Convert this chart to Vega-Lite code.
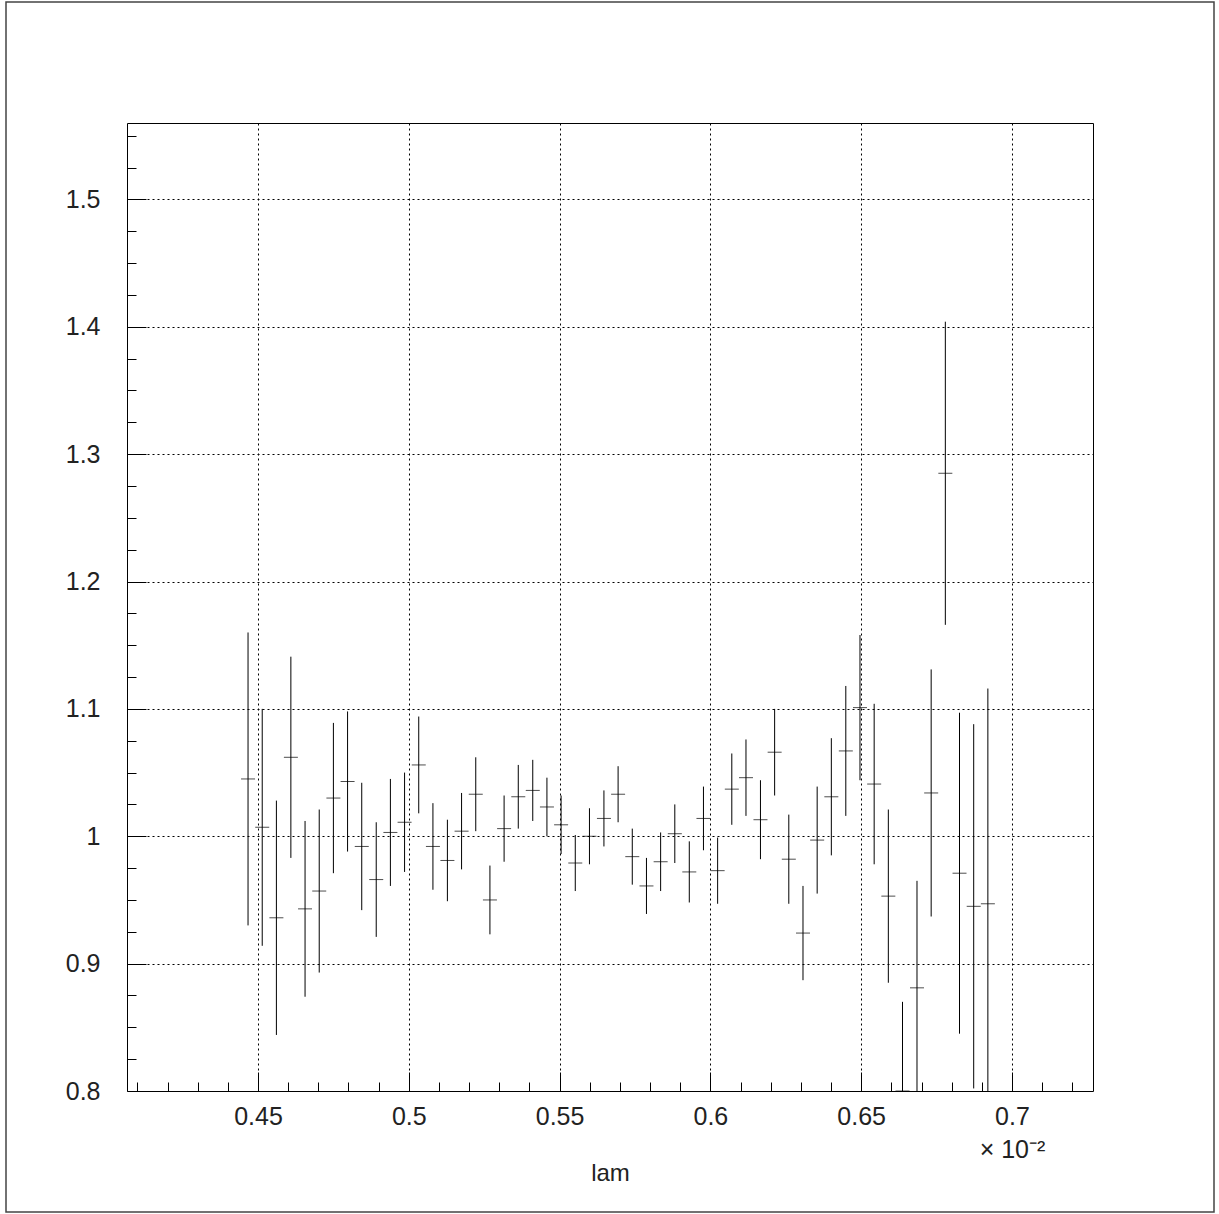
{
  "$schema": "https://vega.github.io/schema/vega-lite/v6.json",
  "description": "Ratio versus lam with statistical error bars and bin-width markers.",
  "width": 1208,
  "height": 1210,
  "autosize": {"type": "none"},
  "padding": {"left": 6, "top": 2, "right": 5, "bottom": 2},
  "background": "white",
  "config": {
    "view": {"stroke": "#444444", "strokeWidth": 1.5},
    "axis": {
      "domainColor": "black",
      "domainWidth": 1,
      "tickColor": "black",
      "tickWidth": 1,
      "gridColor": "black",
      "gridWidth": 1,
      "gridDash": [2, 3],
      "labelFont": "Liberation Sans",
      "labelFontSize": 25,
      "labelColor": "#222222",
      "titleFont": "Liberation Sans",
      "titleFontSize": 24,
      "titleFontWeight": "normal",
      "titleColor": "#222222",
      "labelOverlap": false,
      "labelFlush": false
    }
  },
  "data": {
    "values": [
      {"lam": 0.004467, "ratio": 1.045, "lo": 0.930, "hi": 1.160},
      {"lam": 0.004514, "ratio": 1.007, "lo": 0.914, "hi": 1.100},
      {"lam": 0.004561, "ratio": 0.936, "lo": 0.844, "hi": 1.028},
      {"lam": 0.004609, "ratio": 1.062, "lo": 0.983, "hi": 1.141},
      {"lam": 0.004656, "ratio": 0.943, "lo": 0.874, "hi": 1.012},
      {"lam": 0.004703, "ratio": 0.957, "lo": 0.893, "hi": 1.021},
      {"lam": 0.004750, "ratio": 1.030, "lo": 0.971, "hi": 1.089},
      {"lam": 0.004797, "ratio": 1.043, "lo": 0.988, "hi": 1.098},
      {"lam": 0.004844, "ratio": 0.992, "lo": 0.942, "hi": 1.042},
      {"lam": 0.004892, "ratio": 0.966, "lo": 0.921, "hi": 1.011},
      {"lam": 0.004939, "ratio": 1.003, "lo": 0.961, "hi": 1.045},
      {"lam": 0.004986, "ratio": 1.011, "lo": 0.972, "hi": 1.050},
      {"lam": 0.005033, "ratio": 1.056, "lo": 1.018, "hi": 1.094},
      {"lam": 0.005080, "ratio": 0.992, "lo": 0.958, "hi": 1.026},
      {"lam": 0.005128, "ratio": 0.981, "lo": 0.949, "hi": 1.013},
      {"lam": 0.005175, "ratio": 1.004, "lo": 0.974, "hi": 1.034},
      {"lam": 0.005222, "ratio": 1.033, "lo": 1.004, "hi": 1.062},
      {"lam": 0.005269, "ratio": 0.950, "lo": 0.923, "hi": 0.977},
      {"lam": 0.005316, "ratio": 1.006, "lo": 0.980, "hi": 1.032},
      {"lam": 0.005363, "ratio": 1.031, "lo": 1.006, "hi": 1.056},
      {"lam": 0.005411, "ratio": 1.036, "lo": 1.012, "hi": 1.060},
      {"lam": 0.005458, "ratio": 1.023, "lo": 1.000, "hi": 1.046},
      {"lam": 0.005505, "ratio": 1.009, "lo": 0.986, "hi": 1.032},
      {"lam": 0.005552, "ratio": 0.979, "lo": 0.957, "hi": 1.001},
      {"lam": 0.005599, "ratio": 1.000, "lo": 0.978, "hi": 1.022},
      {"lam": 0.005647, "ratio": 1.014, "lo": 0.992, "hi": 1.036},
      {"lam": 0.005694, "ratio": 1.033, "lo": 1.011, "hi": 1.055},
      {"lam": 0.005741, "ratio": 0.984, "lo": 0.962, "hi": 1.006},
      {"lam": 0.005788, "ratio": 0.961, "lo": 0.939, "hi": 0.983},
      {"lam": 0.005835, "ratio": 0.980, "lo": 0.957, "hi": 1.003},
      {"lam": 0.005882, "ratio": 1.002, "lo": 0.979, "hi": 1.025},
      {"lam": 0.005930, "ratio": 0.972, "lo": 0.948, "hi": 0.996},
      {"lam": 0.005977, "ratio": 1.014, "lo": 0.989, "hi": 1.039},
      {"lam": 0.006024, "ratio": 0.973, "lo": 0.947, "hi": 0.999},
      {"lam": 0.006071, "ratio": 1.037, "lo": 1.009, "hi": 1.065},
      {"lam": 0.006118, "ratio": 1.046, "lo": 1.016, "hi": 1.076},
      {"lam": 0.006166, "ratio": 1.013, "lo": 0.982, "hi": 1.044},
      {"lam": 0.006213, "ratio": 1.066, "lo": 1.032, "hi": 1.100},
      {"lam": 0.006260, "ratio": 0.982, "lo": 0.947, "hi": 1.017},
      {"lam": 0.006307, "ratio": 0.924, "lo": 0.887, "hi": 0.961},
      {"lam": 0.006354, "ratio": 0.997, "lo": 0.955, "hi": 1.039},
      {"lam": 0.006401, "ratio": 1.031, "lo": 0.985, "hi": 1.077},
      {"lam": 0.006449, "ratio": 1.067, "lo": 1.016, "hi": 1.118},
      {"lam": 0.006496, "ratio": 1.101, "lo": 1.044, "hi": 1.158},
      {"lam": 0.006543, "ratio": 1.041, "lo": 0.978, "hi": 1.104},
      {"lam": 0.006590, "ratio": 0.953, "lo": 0.885, "hi": 1.021},
      {"lam": 0.006637, "ratio": 0.795, "lo": 0.720, "hi": 0.870},
      {"lam": 0.006685, "ratio": 0.881, "lo": 0.797, "hi": 0.965},
      {"lam": 0.006732, "ratio": 1.034, "lo": 0.937, "hi": 1.131},
      {"lam": 0.006779, "ratio": 1.285, "lo": 1.166, "hi": 1.404},
      {"lam": 0.006826, "ratio": 0.971, "lo": 0.845, "hi": 1.097},
      {"lam": 0.006873, "ratio": 0.945, "lo": 0.802, "hi": 1.088},
      {"lam": 0.006920, "ratio": 0.947, "lo": 0.778, "hi": 1.116}
    ]
  },
  "layer": [
    {
      "mark": {"type": "rule", "color": "black", "strokeWidth": 1},
      "encoding": {
        "x": {
          "field": "lam",
          "type": "quantitative",
          "scale": {"domain": [0.00406565, 0.0072686], "range": [121, 1087], "nice": false, "zero": false},
          "axis": {
            "orient": "bottom",
            "offset": -121,
            "title": "lam",
            "titleY": 89,
            "titleBaseline": "alphabetic",
            "values": [0.0041, 0.0042, 0.0043, 0.0044, 0.0045, 0.0046, 0.0047, 0.0048, 0.0049, 0.005, 0.0051, 0.0052, 0.0053, 0.0054, 0.0055, 0.0056, 0.0057, 0.0058, 0.0059, 0.006, 0.0061, 0.0062, 0.0063, 0.0064, 0.0065, 0.0066, 0.0067, 0.0068, 0.0069, 0.007, 0.0071, 0.0072],
            "tickSize": {"condition": {"test": "abs(datum.value * 2000 - round(datum.value * 2000)) < 1e-6", "value": -19}, "value": -9},
            "gridOpacity": {"condition": {"test": "abs(datum.value * 2000 - round(datum.value * 2000)) < 1e-6", "value": 1}, "value": 0},
            "labelPadding": 32,
            "labelBaseline": "top",
            "labelLineHeight": 33,
            "labelExpr": "abs(datum.value * 2000 - round(datum.value * 2000)) < 1e-6 ? (abs(datum.value - 0.007) < 1e-9 ? ['0.7', '× 10⁻²'] : format(datum.value * 100, '.2~f')) : ''"
          }
        },
        "y": {
          "field": "lo",
          "type": "quantitative",
          "scale": {"domain": [0.8, 1.56], "range": [1089, 121], "nice": false, "zero": false, "clamp": true},
          "axis": {
            "orient": "left",
            "offset": -121,
            "title": null,
            "values": [0.8, 0.825, 0.85, 0.875, 0.9, 0.925, 0.95, 0.975, 1.0, 1.025, 1.05, 1.075, 1.1, 1.125, 1.15, 1.175, 1.2, 1.225, 1.25, 1.275, 1.3, 1.325, 1.35, 1.375, 1.4, 1.425, 1.45, 1.475, 1.5, 1.525, 1.55],
            "tickSize": {"condition": {"test": "abs(datum.value * 10 - round(datum.value * 10)) < 1e-6", "value": -19}, "value": -9},
            "gridOpacity": {"condition": {"test": "abs(datum.value * 10 - round(datum.value * 10)) < 1e-6 && datum.value > 0.85", "value": 1}, "value": 0},
            "labelPadding": 46,
            "labelExpr": "abs(datum.value * 10 - round(datum.value * 10)) < 1e-6 ? format(datum.value, '.1~f') : ''"
          }
        },
        "y2": {"field": "hi"}
      }
    },
    {
      "mark": {"type": "tick", "orient": "horizontal", "color": "black", "size": 14, "thickness": 1},
      "encoding": {
        "x": {
          "field": "lam",
          "type": "quantitative",
          "axis": {"orient": "top", "offset": -121, "ticks": false, "labels": false, "grid": false, "title": null}
        },
        "y": {
          "field": "ratio",
          "type": "quantitative",
          "axis": {"orient": "right", "offset": -121, "ticks": false, "labels": false, "grid": false, "title": null}
        }
      }
    }
  ],
  "resolve": {"axis": {"x": "independent", "y": "independent"}}
}
